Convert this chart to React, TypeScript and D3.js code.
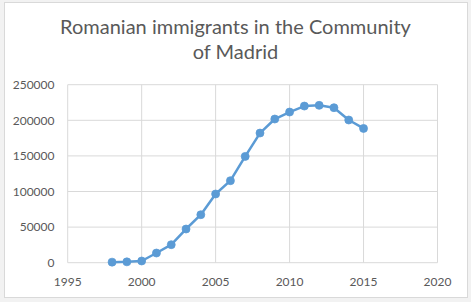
import React from "react";
import * as d3 from "d3";

const years = [1998, 1999, 2000, 2001, 2002, 2003, 2004, 2005, 2006, 2007, 2008, 2009, 2010, 2011, 2012, 2013, 2014, 2015];
const immigrants = [800, 1200, 2400, 13600, 25300, 47300, 67400, 96500, 115200, 149300, 182100, 201800, 211600, 220000, 221000, 217700, 200400, 188600];
const xTicks = [1995, 2000, 2005, 2010, 2015, 2020];
const yTicks = [0, 50000, 100000, 150000, 200000, 250000];
const titleLines = ["Romanian immigrants in the Community", "of Madrid"];

const W = 471;
const H = 302;
const FONT = "Lato, 'Open Sans', sans-serif";
const TEXT = "#595959";
const GRID = "#d9d9d9";
const BLUE = "#5b9bd5";

export default function App() {
  const x = d3.scaleLinear().domain([1995, 2020]).range([67.7, 437.5]);
  const y = d3.scaleLinear().domain([0, 250000]).range([262.7, 84.7]);
  const line = d3
    .line<number>()
    .x((_, i) => x(years[i]))
    .y((d) => y(d));
  const pts = immigrants.map((v, i) => ({ v, yr: years[i] }));

  return (
    <svg
      width={W}
      height={H}
      style={{ position: "absolute", left: 0, top: 0, display: "block" }}
      fontFamily={FONT}
    >
      <rect x={0} y={0} width={W} height={H} fill="#f2f2f2" />
      <rect x={4.5} y={2.5} width={463} height={295} fill="#ffffff" stroke={GRID} strokeWidth={1} />
      {titleLines.map((t, i) => (
        <text
          key={i}
          x={235.5}
          y={34 + i * 25}
          textAnchor="middle"
          fontSize={20}
          fill={TEXT}
        >
          {t}
        </text>
      ))}
      {yTicks.map((t) => (
        <line key={"h" + t} x1={x(1995)} x2={x(2020)} y1={y(t)} y2={y(t)} stroke={GRID} strokeWidth={1} />
      ))}
      {xTicks.map((t) => (
        <line key={"v" + t} x1={x(t)} x2={x(t)} y1={y(0)} y2={y(250000)} stroke={GRID} strokeWidth={1} />
      ))}
      {yTicks.map((t) => (
        <text key={"yl" + t} x={54.5} y={y(t)} dy="0.35em" textAnchor="end" fontSize={12} fill={TEXT}>
          {t}
        </text>
      ))}
      {xTicks.map((t) => (
        <text key={"xl" + t} x={x(t)} y={286} textAnchor="middle" fontSize={12} fill={TEXT}>
          {t}
        </text>
      ))}
      <path d={line(immigrants) || ""} fill="none" stroke={BLUE} strokeWidth={2.5} strokeLinejoin="round" />
      {pts.map((p) => (
        <circle key={p.yr} cx={x(p.yr)} cy={y(p.v)} r={4} fill={BLUE} stroke={BLUE} strokeWidth={0.75} />
      ))}
    </svg>
  );
}
